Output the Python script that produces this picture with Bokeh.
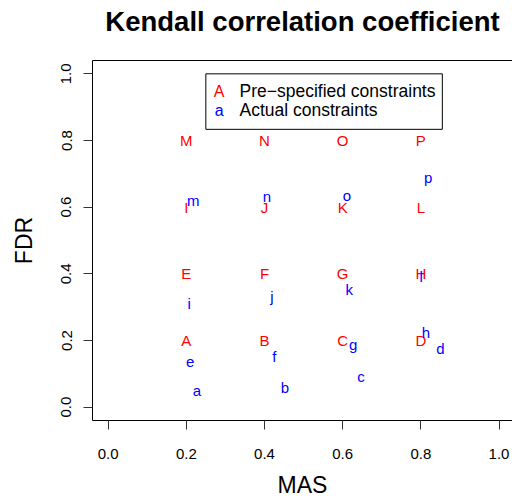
from bokeh.plotting import figure
from bokeh.models import (ColumnDataSource, Range1d, LinearAxis, FixedTicker,
                          BoxAnnotation, Label, PrintfTickFormatter)
from bokeh.core.properties import value
from bokeh.embed import file_html
from bokeh.resources import INLINE

# ---- data ----
pre_labels = list("ABCDEFGHIJKLMNOP")
pre_x = [0.2, 0.4, 0.6, 0.8] * 4
pre_y = [0.2] * 4 + [0.4] * 4 + [0.6] * 4 + [0.8] * 4

act_labels = list("abcdefghijklmnop")
act_x = [0.227, 0.452, 0.647, 0.850,
         0.210, 0.425, 0.627, 0.813,
         0.207, 0.419, 0.617, 0.801,
         0.218, 0.406, 0.611, 0.819]
act_y = [0.051, 0.058, 0.093, 0.175,
         0.136, 0.152, 0.188, 0.224,
         0.311, 0.332, 0.352, 0.391,
         0.619, 0.632, 0.636, 0.689]

x_ticks = [0.0, 0.2, 0.4, 0.6, 0.8, 1.0]
y_ticks = [0.0, 0.2, 0.4, 0.6, 0.8, 1.0]

legend_symbols = ["A", "a"]
legend_texts = ["Pre\u2212specified constraints", "Actual constraints"]
legend_colors = ["#FF0000", "#0000FF"]

title_text = "Kendall correlation coefficient"
x_title = "MAS"
y_title = "FDR"

FONT = "Liberation Sans"

p = figure(width=512, height=500, output_backend="svg", toolbar_location=None,
           x_range=Range1d(-0.04, 1.0345), y_range=Range1d(-0.04, 1.04),
           min_border_left=92, min_border_right=0, min_border_top=60,
           min_border_bottom=73, title=title_text)
p.outline_line_color = None
p.background_fill_color = "white"
p.border_fill_color = "white"
p.xgrid.visible = False
p.ygrid.visible = False

p.title.text_font = FONT
p.title.text_font_size = "27.5px"
p.title.text_font_style = "bold"
p.title.text_color = "black"
p.title.align = "center"
p.title.standoff = 4

for ax, ticks, lab in [(p.xaxis[0], x_ticks, x_title), (p.yaxis[0], y_ticks, y_title)]:
    ax.ticker = FixedTicker(ticks=ticks)
    ax.formatter = PrintfTickFormatter(format="%.1f")
    ax.axis_label = lab
    ax.axis_label_text_font = FONT
    ax.axis_label_text_font_size = "23px"
    ax.axis_label_text_font_style = "normal"
    ax.axis_label_text_color = "black"
    ax.major_label_text_font = FONT
    ax.major_label_text_font_size = "15px"
    ax.major_label_text_color = "black"
    ax.major_tick_out = 9
    ax.major_tick_in = 0
    ax.minor_tick_line_color = None
    ax.axis_line_color = "black"
    ax.major_tick_line_color = "#333333"

p.xaxis[0].major_label_standoff = 19
p.xaxis[0].axis_label_standoff = 10
p.yaxis[0].major_label_orientation = "vertical"
p.yaxis[0].major_label_standoff = 12
p.yaxis[0].axis_label_standoff = 22

# top edge of the box (no ticks); a blank label leaves room below the title
top_axis = LinearAxis(ticker=FixedTicker(ticks=[]), axis_line_color="black",
                      major_tick_line_color=None, minor_tick_line_color=None,
                      major_label_text_font_size="0px",
                      axis_label=" ", axis_label_text_font_size="15px",
                      axis_label_text_color="white", axis_label_standoff=2)
p.add_layout(top_axis, "above")

pre_src = ColumnDataSource(dict(x=pre_x, y=pre_y, t=pre_labels))
act_src = ColumnDataSource(dict(x=act_x, y=act_y, t=act_labels))
p.text(x="x", y="y", text="t", source=pre_src, text_color="#FF0000",
       text_font=value(FONT), text_font_size="15px",
       text_align="center", text_baseline="middle")
p.text(x="x", y="y", text="t", source=act_src, text_color="#0000FF",
       text_font=value(FONT), text_font_size="15px",
       text_align="center", text_baseline="middle")

# legend box
box = BoxAnnotation(left=0.25, right=0.855, top=1.0, bottom=0.8335,
                    fill_color="white", fill_alpha=1.0,
                    line_color="black", line_alpha=1.0, line_width=1)
p.add_layout(box)
leg_y = [0.9475, 0.8905]
for i in range(2):
    p.add_layout(Label(x=0.284, y=leg_y[i], text=legend_symbols[i],
                       text_color=legend_colors[i], text_font=FONT,
                       text_font_size="16px", text_align="center",
                       text_baseline="middle"))
    p.add_layout(Label(x=0.336, y=leg_y[i], text=legend_texts[i],
                       text_color="black", text_font=FONT,
                       text_font_size="17.5px", text_align="left",
                       text_baseline="middle"))

open("out.html", "w").write(file_html(p, INLINE))
